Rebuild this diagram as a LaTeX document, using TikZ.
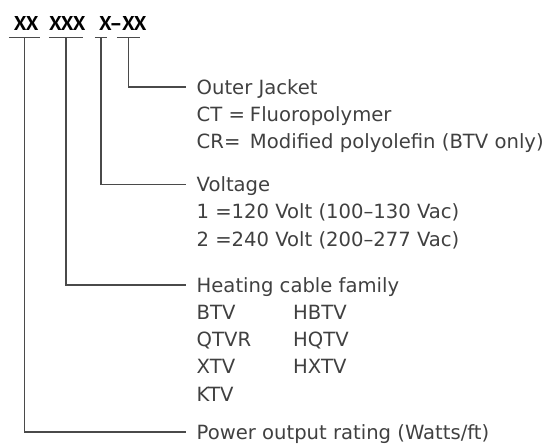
\documentclass[tikz,border=0pt]{standalone}
\usepackage{fontspec}
\setmainfont{DejaVu Sans}
\newfontfamily\codefont[Ligatures=TeX]{PT Sans}
\usetikzlibrary{positioning}
\definecolor{inkgray}{HTML}{404040}
\definecolor{leadgray}{HTML}{4A4A4A}

\begin{document}
\begin{tikzpicture}[x=1pt, y=-1pt]
    \tikzstyle{codepart}=[font=\codefont\fontsize{20}{20}\selectfont\bfseries, inner xsep=0pt, inner ysep=6.8pt, text depth=0pt, anchor=base]
    \tikzstyle{entry}=[font=\fontsize{19.6}{19.6}\selectfont, text=inkgray, inner xsep=10.5pt, inner ysep=0pt, text height=20.6pt, text depth=6.2pt]
    \tikzstyle{heading}=[entry, anchor=west]
    \tikzstyle{leader}=[draw=leadgray, line width=1.1pt]
    \useasboundingbox (0,0) rectangle (545,445);

    % order code
    \node[codepart] (wattcode) at (24.5,30.5) {\makebox[31pt][l]{\hspace*{5pt}XX}};
    \node[codepart] (familycode) at (66,30.5) {\makebox[34pt][l]{XXX}};
    \node[codepart] (voltcode) at (101,30.5) {\makebox[12pt][l]{\hspace*{4pt}X}};
    \node[codepart] (dash) at (116,30.5) {\textendash};
    \node[codepart] (jacketcode) at (128.5,30.5) {\makebox[23pt][l]{\hspace*{5pt}XX}};

    \draw[leader] (wattcode.south west) -- (wattcode.south east);
    \draw[leader] (familycode.south west) -- (familycode.south east);
    \draw[leader] (voltcode.south west) -- (voltcode.south east);
    \draw[leader] (jacketcode.south west) -- (jacketcode.south east);

    % outer jacket
    \node[heading] (jacket) at (186,87) {Outer Jacket};
    \node[entry, below=0pt of jacket.south west, anchor=north west] (jacket1) {\makebox[53.3pt][l]{CT =}Fluoropolymer};
    \node[entry, below=0pt of jacket1.south west, anchor=north west] (jacket2) {\makebox[53.3pt][l]{CR=}Modified polyolefin (BTV only)};

    % voltage
    \node[heading] (volt) at (186,184.5) {Voltage};
    \node[entry, below=0pt of volt.south west, anchor=north west] (volt1) {\makebox[35pt][l]{1 =}120 Volt (100--130 Vac)};
    \node[entry, below=0pt of volt1.south west, anchor=north west] (volt2) {\makebox[35pt][l]{2 =}240 Volt (200--277 Vac)};

    % cable family
    \node[heading] (family) at (186,285) {Heating cable family};
    \node[entry, below=0pt of family.south west, anchor=north west] (family1) {\makebox[96.5pt][l]{BTV}HBTV};
    \node[entry, below=0pt of family1.south west, anchor=north west] (family2) {\makebox[96.5pt][l]{QTVR}HQTV};
    \node[entry, below=0pt of family2.south west, anchor=north west] (family3) {\makebox[96.5pt][l]{XTV}HXTV};
    \node[entry, below=0pt of family3.south west, anchor=north west] (family4) {KTV};

    % power output
    \node[heading] (watt) at (186,432) {Power output rating (Watts/ft)};

    \draw[leader] (jacketcode.south) |- (jacket.west);
    \draw[leader] (voltcode.south) |- (volt.west);
    \draw[leader] (familycode.south) |- (family.west);
    \draw[leader] (wattcode.south) |- (watt.west);
\end{tikzpicture}
\end{document}
